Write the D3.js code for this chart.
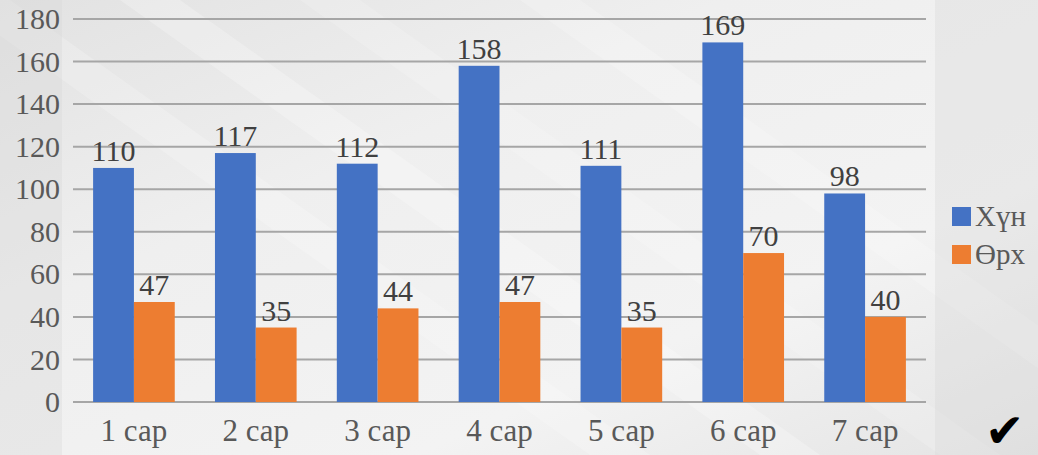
<!DOCTYPE html>
<html><head><meta charset="utf-8">
<script src="https://cdn.jsdelivr.net/npm/d3@7"></script>
<style>html,body{margin:0;padding:0;background:#ececec;}svg{display:block;}</style>
</head><body>
<svg id="c" width="1038" height="455"></svg>
<script>
const categories = ["1 сар","2 сар","3 сар","4 сар","5 сар","6 сар","7 сар"];
const seriesNames = ["Хүн","Өрх"];
const hun = [110,117,112,158,111,169,98];
const orh = [47,35,44,47,35,70,40];
const yTicks = [0,20,40,60,80,100,120,140,160,180];
const colors = ["#4472C4","#ED7D31"];
const SERIF = '"Liberation Serif"';

const svg = d3.select("#c");
const W = 1038, H = 455;
const defs = svg.append("defs");
const g1 = defs.append("linearGradient").attr("id","bg").attr("x1","0").attr("y1","0").attr("x2","1").attr("y2","1");
g1.append("stop").attr("offset","0").attr("stop-color","#e2e2e2");
g1.append("stop").attr("offset","0.35").attr("stop-color","#efefef");
g1.append("stop").attr("offset","0.7").attr("stop-color","#f3f3f3");
g1.append("stop").attr("offset","1").attr("stop-color","#e4e4e4");
svg.append("rect").attr("width",W).attr("height",H).attr("fill","url(#bg)");
const bands = [[-50,0.05],[120,0.06],[300,0.04],[520,0.05]];
bands.forEach(([o,a])=>{
  svg.append("path").attr("d",`M${o},0 L${o+60},0 L${o+700},${H} L${o+640},${H}Z`)
    .attr("fill","#ffffff").attr("opacity",a*4);
});
svg.append("rect").attr("x",0).attr("y",0).attr("width",62).attr("height",H).attr("fill","#d8d8d8").attr("opacity",0.35);
svg.append("rect").attr("x",935).attr("y",0).attr("width",103).attr("height",H).attr("fill","#d6d6d6").attr("opacity",0.35);

const x0 = 73, x1 = 926, yTop = 19, yBot = 402;
const x = d3.scaleBand().domain(categories).range([x0,x1]).paddingInner(0.33).paddingOuter(0.165);
const xs = d3.scaleBand().domain(seriesNames).range([0,x.bandwidth()]);
const y = d3.scaleLinear().domain([0,180]).range([yBot,yTop]);

svg.append("g").selectAll("line").data(yTicks).join("line")
  .attr("x1",x0).attr("x2",x1).attr("y1",d=>y(d)).attr("y2",d=>y(d))
  .attr("stroke","#a6a6a6").attr("stroke-width",2);

const yAxis = d3.axisLeft(y).tickValues(yTicks).tickSize(0).tickPadding(13);
const ya = svg.append("g").attr("transform",`translate(${x0},0)`).call(yAxis);
ya.select(".domain").remove();
ya.selectAll("text").style("font-family",SERIF).style("font-size","30px").attr("fill","#595959");

const xAxis = d3.axisBottom(x).tickSize(0).tickPadding(17);
const xa = svg.append("g").attr("transform",`translate(0,${yBot})`).call(xAxis);
xa.select(".domain").remove();
xa.selectAll("text").style("font-family",SERIF).style("font-size","31px").attr("fill","#595959");

const data = categories.map((c,i)=>({c, vals:[{s:seriesNames[0],v:hun[i],k:0},{s:seriesNames[1],v:orh[i],k:1}]}));
const grp = svg.append("g").selectAll("g").data(data).join("g").attr("transform",d=>`translate(${x(d.c)},0)`);
grp.selectAll("rect").data(d=>d.vals).join("rect")
  .attr("x",d=>xs(d.s)).attr("width",xs.bandwidth())
  .attr("y",d=>y(d.v)).attr("height",d=>y(0)-y(d.v))
  .attr("fill",d=>colors[d.k]);
grp.selectAll("text").data(d=>d.vals).join("text")
  .attr("x",d=>xs(d.s)+xs.bandwidth()/2).attr("y",d=>y(d.v)-7)
  .attr("text-anchor","middle").style("font-family",SERIF).style("font-size","30px")
  .attr("fill","#404040").text(d=>d.v);

const lg = svg.append("g").selectAll("g").data(seriesNames).join("g")
  .attr("transform",(d,i)=>`translate(952,${207+i*38})`);
lg.append("rect").attr("width",19).attr("height",19).attr("fill",(d,i)=>colors[i]);
lg.append("text").attr("x",23).attr("y",19).style("font-family",SERIF).style("font-size","29px")
  .attr("fill","#595959").text(d=>d);

svg.append("text").attr("x",985).attr("y",447).style("font-family",'"DejaVu Sans"')
  .style("font-size","47px").attr("fill","#000").text("✔");
</script>
</body></html>
